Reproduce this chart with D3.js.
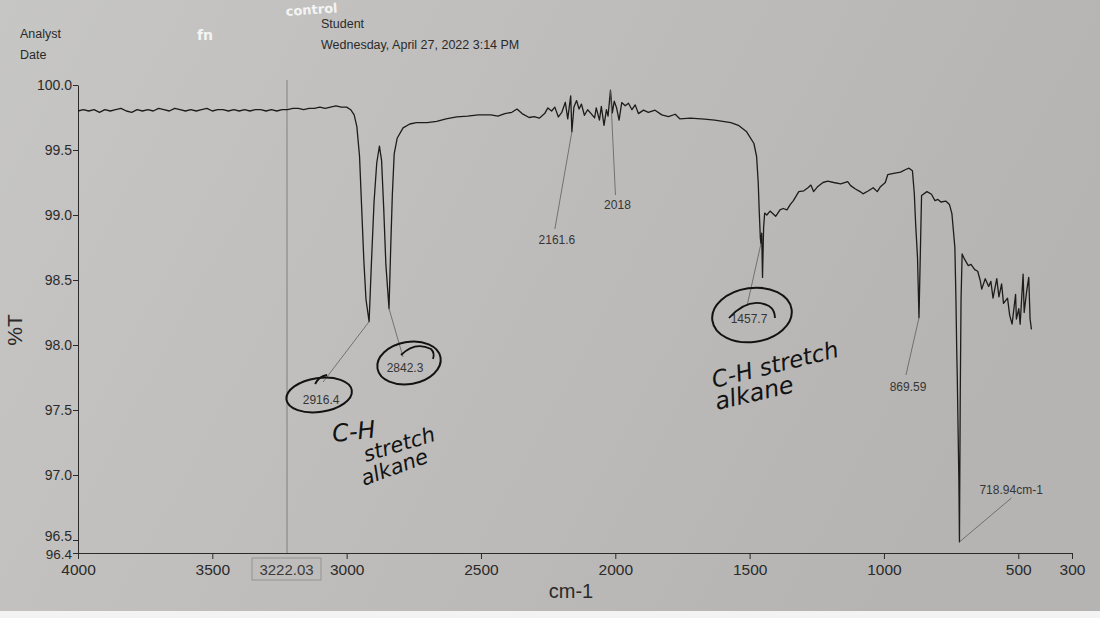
<!DOCTYPE html>
<html><head><meta charset="utf-8">
<script src="https://cdn.jsdelivr.net/npm/d3@7"></script>
<style>body{margin:0;background:#bebcba;} svg{display:block}</style>
</head><body><svg id="c" width="1100" height="618"></svg>
<script>
// ---- data ----
const wavenumbers = [4000,3980,3960,3940,3920,3900,3880,3860,3840,3820,3800,3780,3760,3740,3720,3700,3680,3660,3640,3620,3600,3580,3560,3540,3520,3500,3480,3460,3440,3420,3400,3380,3360,3340,3320,3300,3280,3260,3240,3220,3200,3180,3160,3140,3120,3100,3080,3060,3040,3020,3000,2985,2972,
2962,2952,2944,2936,2928,2916.4,2908,2898,2888,2878,2870,2862,2854,2842.3,2836,2830,2823,2812,2790,2765,2740,2700,2665,2630,2590,2550,2510,
2463,2437,2411,2385,2366,2347,2321,2302,2283,2263,2251,2237,2225,2212,2199,2186,2177,2166,2161.6,2154,2144,2135,2126,2115,2103,2090,2077,2071,2059,2052,2042,2033,2027,2018,2011,2004,1995,1986,1976,1963,1951,1938,1926,1914,1895,1877,1852,1827,1802,1777,
1760,1720,1668,1630,1600,1570,1542,1511,1484,1474,1468,1464,1460,1457.7,1455,1452,1448,1444,1436,1424,1413,1403,1387,1375,1361,1349,1337,1317,1298,1283,1272,1262,1246,1227,1209,1187,1161,1135,1124,1106,1089,1078,1059,1040,1025,1014,995,986,964,938,919,907,894,887,882,875,869.59,860,840,823,810,799,788,770,756,747,736,732,729,727,724,721,718.94,716,713,709,700,686,676,662,651,642,636,623,610,602,594,580,572,562,555,540,532,523,510,507,498,493,482,478,469,461,456,451];
const transmittance = [99.80,99.81,99.80,99.81,99.79,99.81,99.80,99.81,99.82,99.80,99.79,99.81,99.80,99.81,99.80,99.82,99.81,99.80,99.82,99.81,99.80,99.81,99.80,99.81,99.82,99.80,99.81,99.81,99.80,99.81,99.80,99.81,99.80,99.81,99.81,99.80,99.81,99.80,99.81,99.81,99.82,99.82,99.81,99.82,99.82,99.83,99.82,99.83,99.84,99.83,99.83,99.81,99.77,
99.68,99.45,99.05,98.65,98.35,98.18,98.62,99.10,99.40,99.53,99.42,99.05,98.62,98.28,98.75,99.15,99.47,99.59,99.67,99.70,99.71,99.71,99.72,99.74,99.755,99.76,99.77,
99.77,99.76,99.78,99.79,99.815,99.78,99.75,99.757,99.745,99.78,99.824,99.80,99.83,99.754,99.79,99.867,99.74,99.917,99.64,99.83,99.88,99.815,99.853,99.767,99.81,99.78,99.747,99.824,99.73,99.835,99.69,99.81,99.76,99.96,99.786,99.875,99.823,99.73,99.865,99.84,99.86,99.81,99.847,99.78,99.807,99.79,99.806,99.77,99.756,99.775,
99.74,99.745,99.737,99.73,99.72,99.71,99.69,99.64,99.55,99.45,99.25,99.02,98.82,98.78,98.86,98.52,98.90,99.015,99.00,99.03,99.01,98.99,99.04,99.05,99.04,99.08,99.11,99.18,99.186,99.21,99.23,99.18,99.22,99.25,99.26,99.25,99.24,99.257,99.226,99.20,99.18,99.163,99.185,99.21,99.18,99.215,99.25,99.31,99.32,99.33,99.35,99.36,99.34,99.165,98.93,98.67,98.21,99.15,99.18,99.16,99.11,99.12,99.10,99.107,99.08,99.01,98.75,98.35,97.95,97.75,97.35,96.95,96.485,97.6,98.35,98.70,98.66,98.61,98.62,98.58,98.567,98.50,98.43,98.51,98.45,98.49,98.36,98.51,98.37,98.47,98.32,98.36,98.23,98.16,98.39,98.20,98.28,98.16,98.545,98.25,98.41,98.52,98.20,98.12];

const xTickValues = [4000,3500,3000,2500,2000,1500,1000,500,300];
const yTickValues = [100.0,99.5,99.0,98.5,98.0,97.5,97.0,96.5,96.4];
const peakWavenumbers = [2916.4,2842.3,2161.6,2018,1457.7,869.59,718.94];
const peakLabels = ["2916.4","2842.3","2161.6","2018","1457.7","869.59","718.94cm-1"];
const cursorWavenumber = 3222.03;
const cursorLabel = "3222.03";
const headerLeft = ["Analyst","Date"];
const headerRight = ["Student","Wednesday, April 27, 2022 3:14 PM"];
const handNotesLeft = ["C-H","stretch","alkane"];
const handNotesRight = ["C-H stretch","alkane"];
const yAxisTitle = "%T";
const xAxisTitle = "cm-1";

// ---- drawing ----
const svg = d3.select("#c");
const defs = svg.append("defs");
const grad = defs.append("linearGradient").attr("id","paper").attr("x1","0").attr("x2","1").attr("y1","0").attr("y2","0.3");
grad.append("stop").attr("offset","0").attr("stop-color","#c6c6c4");
grad.append("stop").attr("offset","0.5").attr("stop-color","#bfbdbb");
grad.append("stop").attr("offset","1").attr("stop-color","#b6b4b2");
svg.append("rect").attr("width",1100).attr("height",618).attr("fill","url(#paper)");
svg.append("rect").attr("x",0).attr("y",611).attr("width",1100).attr("height",7).attr("fill","#f3f3f3");

const font = "'Liberation Sans', Arial, sans-serif";
const ink = "#2a2a2a";

const x = d3.scaleLinear().domain([4000,300]).range([78,1072]);
const y = d3.scaleLinear().domain([96.4,100]).range([553,85]);

// header
svg.selectAll("text.hl").data(headerLeft).join("text").attr("class","hl")
  .attr("x",20).attr("y",(d,i)=>38+i*21).text(d=>d)
  .attr("font-family",font).attr("font-size",12.5).attr("fill",ink);
svg.selectAll("text.hr").data(headerRight).join("text").attr("class","hr")
  .attr("x",321).attr("y",(d,i)=>28+i*21).text(d=>d)
  .attr("font-family",font).attr("font-size",12.5).attr("fill",ink);
svg.append("text").attr("x",197).attr("y",40).text("fn")
  .attr("font-family","'DejaVu Sans', sans-serif").attr("font-weight","bold").attr("font-size",14).attr("fill","#f4f4f4");
svg.append("text").attr("transform","translate(286,16) rotate(-4)").text("control")
  .attr("font-family","'DejaVu Sans', sans-serif").attr("font-weight","bold").attr("font-size",13).attr("fill","#f4f4f4");

// cursor line
const cx = x(cursorWavenumber);
svg.append("line").attr("x1",cx).attr("x2",cx).attr("y1",80).attr("y2",y(96.4))
  .attr("stroke","#6f6f6f").attr("stroke-width",0.8);
svg.append("rect").attr("x",cx-35).attr("y",558).attr("width",69).attr("height",22)
  .attr("fill","none").attr("stroke","#8a8a8a").attr("stroke-width",0.8);
svg.append("text").attr("x",cx-0.5).attr("y",575).attr("text-anchor","middle").text(cursorLabel)
  .attr("font-family",font).attr("font-size",15).attr("fill","#3a3a3a");

// axes
const yAxis = d3.axisLeft(y).tickValues(yTickValues).tickFormat(d3.format(".1f")).tickSize(5).tickSizeOuter(0);
const gy = svg.append("g").attr("transform",`translate(${x(4000)},0)`).call(yAxis);
gy.selectAll("text").attr("font-family",font).attr("font-size",14).attr("fill",ink).attr("x",-6);
gy.selectAll(".tick").filter(d=>d===96.5).select("text").attr("dy","0.0em");
gy.selectAll(".tick").filter(d=>d===96.4).select("text").attr("dy","0.4em").attr("font-size",13.5);
gy.selectAll("line,path").attr("stroke",ink);

const xAxis = d3.axisBottom(x).tickValues(xTickValues).tickFormat(d3.format("d")).tickSize(6).tickSizeOuter(0);
const gx = svg.append("g").attr("transform",`translate(0,${y(96.4)})`).call(xAxis);
gx.selectAll("text").attr("font-family",font).attr("font-size",15.5).attr("fill",ink).attr("dy","0.85em").attr("y",9);
gx.selectAll("line,path").attr("stroke",ink);

svg.append("text").attr("transform","translate(22,330) rotate(-90)").attr("text-anchor","middle").text(yAxisTitle)
  .attr("font-family",font).attr("font-size",21).attr("fill",ink);
svg.append("text").attr("x",571).attr("y",598).attr("text-anchor","middle").text(xAxisTitle)
  .attr("font-family",font).attr("font-size",20).attr("fill",ink);

// spectrum
const pts = wavenumbers.map((w,i)=>[w,transmittance[i]]);
svg.append("path").datum(pts)
  .attr("d",d3.line().x(d=>x(d[0])).y(d=>y(d[1])))
  .attr("fill","none").attr("stroke","#1c1c1c").attr("stroke-width",1.3).attr("stroke-linejoin","round");

// peak labels (layout: offsets relative to the peak)
const labelLayout = [
  {dx:-48, ly:404, anchor:"middle", ex:2, ey:-22},
  {dx:16,  ly:372, anchor:"middle", ex:-2, ey:-15},
  {dx:-15, ly:244, anchor:"middle", ex:-2, ey:-15},
  {dx:7,   ly:209, anchor:"middle", ex:-2, ey:-14},
  {dx:-12, ly:323, anchor:"middle", ex:-2, ey:-17},
  {dx:-11, ly:391, anchor:"middle", ex:-2, ey:-16},
  {dx:20,  ly:494, anchor:"start",  ex:32, ey:4}
];
peakWavenumbers.forEach((w,i)=>{
  const idx = wavenumbers.indexOf(w);
  const px = x(w), py = y(transmittance[idx]);
  const L = labelLayout[i];
  const lx = px + L.dx;
  svg.append("line").attr("x1",px).attr("y1",py).attr("x2",lx+L.ex).attr("y2",L.ly+L.ey)
    .attr("stroke","#5e5e5e").attr("stroke-width",0.8);
  svg.append("text").attr("x",lx).attr("y",L.ly).attr("text-anchor",L.anchor).text(peakLabels[i])
    .attr("font-family",font).attr("font-size",12).attr("fill","#353535");
  L.lx = lx;
});

// handwritten circles around selected labels
const pen = "#121212";
function circleAt(cxp, cyp, rx, ry, rot){
  svg.append("ellipse").attr("cx",cxp).attr("cy",cyp).attr("rx",rx).attr("ry",ry)
    .attr("transform",`rotate(${rot},${cxp},${cyp})`)
    .attr("fill","none").attr("stroke",pen).attr("stroke-width",2);
}
circleAt(labelLayout[0].lx-2, 395, 33, 17, -8);
svg.append("path").attr("d",`M${labelLayout[0].lx-6},384 q4,-8 12,-9`).attr("fill","none").attr("stroke",pen).attr("stroke-width",1.8);
circleAt(labelLayout[1].lx+4, 363, 32, 21, -10);
svg.append("path").attr("d",`M${labelLayout[1].lx-4},355 q14,-14 30,-6 q4,4 2,10`).attr("fill","none").attr("stroke",pen).attr("stroke-width",1.8);
circleAt(labelLayout[4].lx+3, 315, 40, 27, -8);
svg.append("path").attr("d",`M${labelLayout[4].lx-20},318 q20,-22 40,-12 q6,4 6,12`).attr("fill","none").attr("stroke",pen).attr("stroke-width",1.8);

// handwritten notes
const handFont = "'DejaVu Sans', sans-serif";
const leftNotePos = [[333,442,-6,24],[366,462,-17,21],[364,486,-20,21]];
handNotesLeft.forEach((t,i)=>{
  const p = leftNotePos[i];
  svg.append("text").attr("transform",`translate(${p[0]},${p[1]}) rotate(${p[2]})`).text(t)
    .attr("font-family",handFont).attr("font-style","italic").attr("font-weight",300).attr("font-size",p[3]).attr("fill",pen);
});
const rightNotePos = [[714,388,-14,23],[717,410,-13,24]];
handNotesRight.forEach((t,i)=>{
  const p = rightNotePos[i];
  svg.append("text").attr("transform",`translate(${p[0]},${p[1]}) rotate(${p[2]})`).text(t)
    .attr("font-family",handFont).attr("font-style","italic").attr("font-weight",300).attr("font-size",p[3]).attr("fill",pen);
});
</script>
</body></html>
